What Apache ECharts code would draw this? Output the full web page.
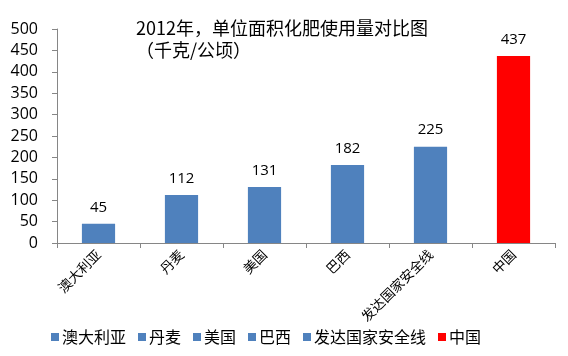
<!DOCTYPE html>
<html><head><meta charset="utf-8">
<script src="https://cdn.jsdelivr.net/npm/echarts@6/dist/echarts.min.js"></script>
<style>html,body{margin:0;padding:0;background:#fff}#c{width:568px;height:356px}</style>
</head><body><div id="c"></div>
<script>
const categories = ['澳大利亚','丹麦','美国','巴西','发达国家安全线','中国'];
const values = [45,112,131,182,225,437];
const colors = ['#4F81BD','#4F81BD','#4F81BD','#4F81BD','#4F81BD','#FF0000'];
const yTicks = [0,50,100,150,200,250,300,350,400,450,500];

const cjk = '"Noto Sans CJK SC", sans-serif';
const series = categories.map((name, i) => ({
  name: name,
  type: 'bar',
  stack: 'all',
  barWidth: '40%',
  itemStyle: { color: colors[i] },
  label: { show: true, position: 'top', distance: 9, fontSize: 15, color: '#000', fontFamily: '"Open Sans", sans-serif' },
  data: values.map((v, j) => j === i ? v : '-')
}));

const chart = echarts.init(document.getElementById('c'));
chart.setOption({
  animation: false,
  title: {
    text: '2012年，单位面积化肥使用量对比图\n（千克/公顷）',
    left: 131, top: 12,
    textStyle: { fontSize: 18, fontWeight: 'normal', color: '#000', fontFamily: cjk, lineHeight: 22 }
  },
  legend: {
    bottom: 6, left: 46,
    itemWidth: 8, itemHeight: 8, itemGap: 12,
    icon: 'rect',
    textStyle: { fontSize: 16, color: '#000', fontFamily: cjk, padding: [0,0,0,-2] },
    data: categories
  },
  grid: { left: 57, right: 13, top: 29, bottom: 113, containLabel: false },
  xAxis: {
    type: 'category',
    data: categories,
    axisLine: { lineStyle: { color: '#868686' } },
    axisTick: { show: true, length: 5, alignWithLabel: false, lineStyle: { color: '#868686' } },
    axisLabel: { rotate: 45, fontSize: 13.5, color: '#000', fontFamily: cjk, margin: 9, interval: 0 }
  },
  yAxis: {
    type: 'value', min: yTicks[0], max: yTicks[yTicks.length-1], interval: 50,
    splitLine: { show: false },
    axisLine: { show: true, lineStyle: { color: '#868686' } },
    axisTick: { show: true, length: 5, lineStyle: { color: '#868686' } },
    axisLabel: { fontSize: 16, color: '#000', fontFamily: '"Open Sans", sans-serif', margin: 19 }
  },
  series: series
});
</script></body></html>
